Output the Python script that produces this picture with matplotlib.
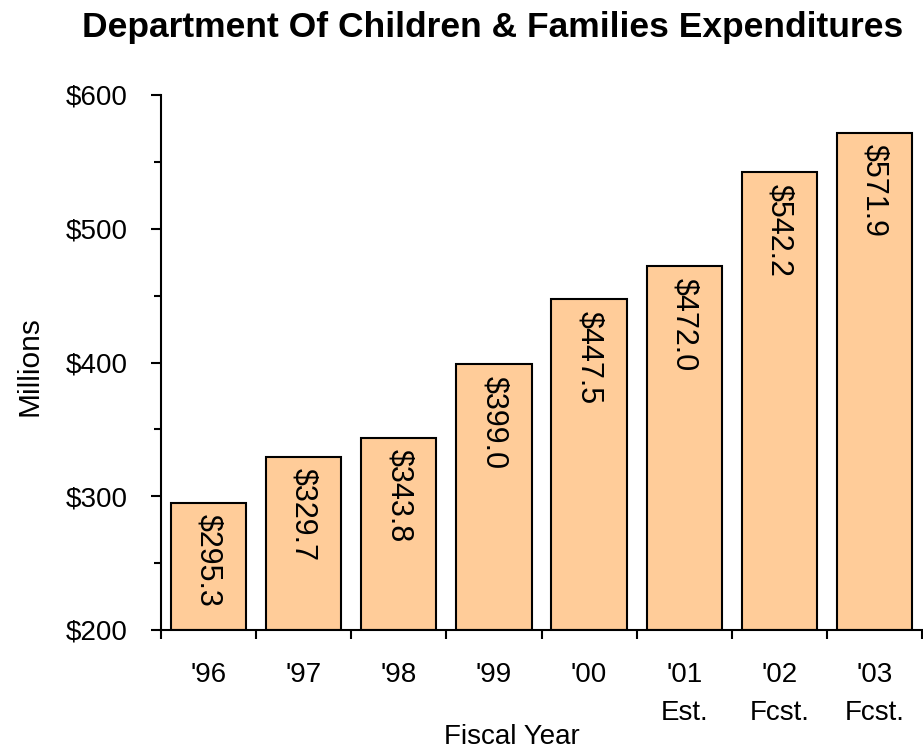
import matplotlib
matplotlib.use("Agg")
import matplotlib.pyplot as plt
from matplotlib.ticker import MultipleLocator, FixedLocator, FuncFormatter

plt.rcParams['font.family'] = ['Liberation Sans', 'DejaVu Sans']

years = ["'96", "'97", "'98", "'99", "'00", "'01\nEst.", "'02\nFcst.", "'03\nFcst."]
expenditures = [295.3, 329.7, 343.8, 399.0, 447.5, 472.0, 542.2, 571.9]

W, H = 923, 752
fig = plt.figure(figsize=(W / 100, H / 100), dpi=100)
ax = fig.add_axes([161 / W, 1 - 630 / H, 761 / W, 535 / H])

x = list(range(len(years)))
ax.bar(x, [v - 200 for v in expenditures], bottom=200, width=0.79,
       color='#FFCC99', edgecolor='black', linewidth=1.5)

for xi, v in zip(x, expenditures):
    ax.annotate(f"${v:.1f}", xy=(xi, v), xytext=(0, -8.5), textcoords='offset points',
                rotation=-90, ha='center', va='top', fontsize=22, color='black')

ax.set_xlim(-0.5, len(years) - 0.5)
ax.set_ylim(200, 600)

ax.yaxis.set_major_locator(MultipleLocator(100))
ax.yaxis.set_minor_locator(MultipleLocator(50))
ax.yaxis.set_major_formatter(FuncFormatter(lambda v, p: f"${v:.0f}"))
ax.tick_params(axis='y', which='major', direction='out', length=7.2, width=1.5,
               labelsize=20, pad=17)
ax.tick_params(axis='y', which='minor', direction='out', length=5, width=1.5)

ax.xaxis.set_major_locator(FixedLocator(x))
ax.set_xticklabels(years, fontsize=20, linespacing=1.6)
ax.xaxis.set_minor_locator(FixedLocator([i - 0.5 for i in range(len(years) + 1)]))
ax.tick_params(axis='x', which='major', length=0, pad=23)
ax.tick_params(axis='x', which='minor', direction='out', length=6.5, width=1.5)

for s in ['top', 'right']:
    ax.spines[s].set_visible(False)
for s in ['left', 'bottom']:
    ax.spines[s].set_linewidth(1.5)

fig.text(30 / W, 1 - 366 / H, "Millions", rotation=90, ha='center', va='center',
         fontsize=21.5)
fig.text(512 / W, 1 - 737 / H, "Fiscal Year", ha='center', va='center', fontsize=20)

fig.text(493 / W, 1 - 28 / H, "Department Of Children & Families Expenditures",
         ha='center', va='center', fontsize=25.5, fontweight='bold')

fig.savefig("out.png", dpi=100)
